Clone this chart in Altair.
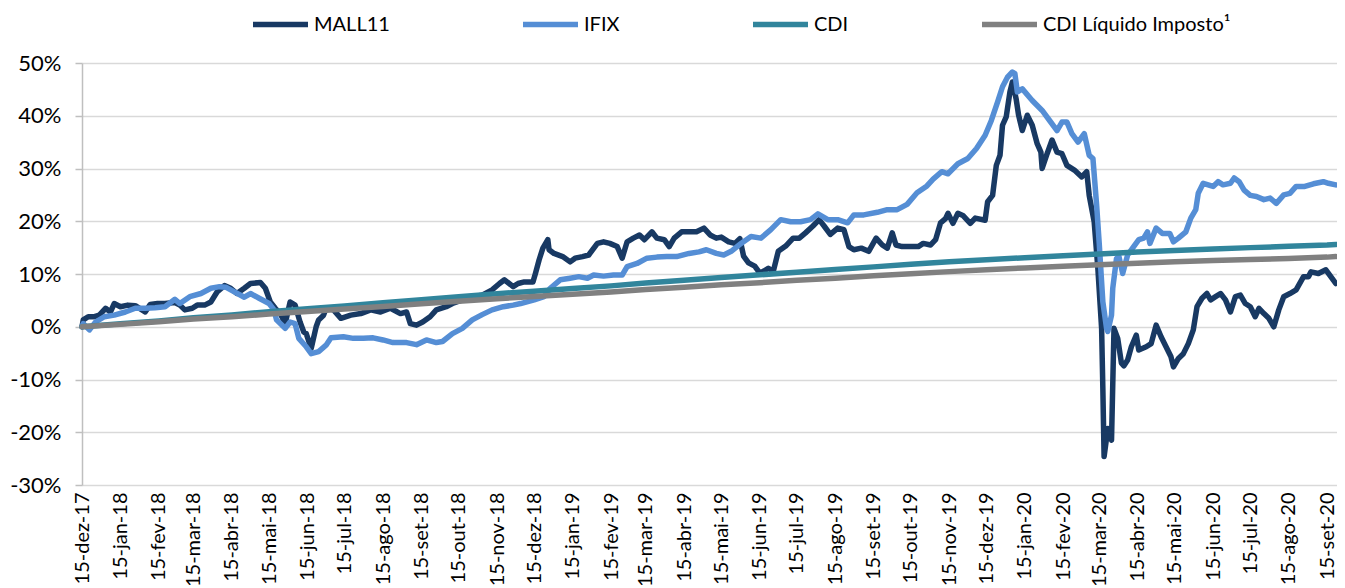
import json
import altair as alt
import pandas as pd

START = "2017-12-15"  # day 0 of every *_day list below

# ---- MALL11 (days since START, cumulative return in %)
mall_day = [0, 1, 5, 10, 14, 19, 23, 26, 31, 37, 43, 51, 55, 61, 67, 75, 79, 83, 89, 93,
            99, 104, 109, 115, 120, 125, 131, 136, 144, 148, 152, 156, 160, 164, 168, 172, 176, 179, 181, 185,
            189, 191, 195, 197, 203, 209, 217, 225, 233, 241, 249, 257, 262, 265, 270, 275, 281, 286, 294, 299,
            307, 315, 323, 331, 337, 341, 348, 352, 357, 364, 366, 369, 372, 376, 377, 381, 388, 394, 398, 404,
            409, 416, 421, 426, 432, 436, 440, 445, 450, 454, 460, 464, 470, 474, 478, 484, 490, 496, 502, 507,
            512, 516, 522, 527, 531, 534, 538, 543, 547, 550, 554, 558, 562, 568, 574, 579, 584, 590, 595, 599,
            604, 610, 615, 619, 623, 629, 635, 641, 646, 650, 654, 657, 662, 669, 675, 679, 685, 689, 693, 697,
            699, 703, 707, 711, 717, 721, 729, 731, 735, 738, 741, 743, 746, 749, 751, 754, 756, 759, 763, 767,
            771, 774, 775, 779, 783, 787, 791, 795, 801, 807, 811, 813, 817, 820, 823, 824, 825, 828, 831, 833,
            836, 839, 841, 844, 847, 851, 853, 859, 863, 867, 871, 875, 879, 881, 885, 889, 893, 897, 900, 904,
            908, 911, 915, 919, 923, 927, 931, 935, 939, 943, 947, 950, 954, 958, 962, 966, 970, 975, 980, 986,
            990, 992, 998, 1004, 1008, 1012]
mall_val = [0.0, 1.3, 1.9, 1.9, 2.2, 3.5, 2.8, 4.4, 3.8, 4.1, 4.0, 2.8, 4.2, 4.4, 4.4, 4.6, 4.1, 3.2, 3.5, 4.1,
            4.1, 4.7, 6.6, 7.8, 7.3, 6.3, 7.3, 8.2, 8.4, 7.3, 4.7, 3.5, 2.5, 0.6, 4.7, 4.1, 0.9, -1.0, -1.3, -4.1,
            0.0, 1.3, 2.2, 3.5, 3.2, 1.6, 2.2, 2.5, 3.2, 2.8, 3.5, 2.5, 2.8, 0.6, 0.3, 0.9, 1.9, 3.2, 3.8, 4.4,
            5.1, 5.7, 6.0, 7.0, 8.2, 8.9, 7.6, 8.2, 8.5, 8.5, 10.1, 12.7, 14.9, 16.5, 14.6, 13.9, 13.3, 12.3, 13.0, 13.3,
            13.6, 15.8, 16.1, 15.8, 15.2, 13.0, 16.1, 16.8, 17.4, 16.5, 18.0, 16.8, 16.5, 15.2, 16.8, 18.0, 18.0, 18.0, 18.7, 17.4,
            16.8, 17.0, 16.1, 15.8, 16.7, 13.4, 12.1, 11.5, 10.2, 10.5, 11.1, 10.5, 14.3, 15.3, 16.8, 16.8, 17.8, 19.1, 20.3, 19.1,
            17.5, 18.7, 18.4, 15.2, 14.6, 14.9, 14.3, 16.8, 15.5, 14.9, 17.8, 15.5, 15.2, 15.2, 15.2, 15.8, 15.5, 16.5, 19.7, 20.5,
            21.5, 19.6, 21.5, 21.1, 19.6, 20.6, 20.2, 23.7, 24.9, 30.6, 32.5, 38.2, 39.8, 44.5, 46.4, 43.2, 40.1, 37.2, 40.1, 38.2,
            34.7, 33.1, 30.0, 32.8, 35.4, 33.1, 32.8, 30.6, 29.7, 28.4, 29.4, 24.9, 19.9, 11.0, -0.3, -11.7, -24.6, -19.3, -21.5, -0.3,
            -2.2, -6.9, -7.4, -6.3, -3.8, -1.6, -4.4, -3.8, -3.2, 0.3, -1.9, -3.8, -5.7, -7.6, -6.0, -5.1, -3.2, -0.6, 3.8, 5.4,
            6.3, 5.1, 5.7, 6.3, 5.1, 2.8, 5.7, 6.0, 4.4, 3.8, 1.9, 3.5, 2.5, 1.6, 0.0, 3.2, 5.7, 6.3, 7.0, 9.5,
            9.5, 10.4, 10.1, 10.8, 9.5, 8.2]

# ---- IFIX
ifix_day = [0, 1, 6, 11, 18, 26, 35, 43, 51, 59, 67, 75, 79, 87, 96, 104, 111, 116, 123, 131,
            136, 143, 151, 155, 157, 164, 168, 172, 175, 181, 185, 191, 197, 201, 211, 219, 227, 235, 243, 251,
            262, 270, 278, 286, 291, 299, 307, 315, 323, 331, 340, 348, 354, 365, 373, 378, 386, 394, 401, 408,
            413, 421, 429, 436, 440, 448, 456, 464, 472, 480, 490, 498, 504, 512, 518, 524, 532, 540, 548, 556,
            564, 572, 580, 588, 594, 602, 610, 618, 623, 631, 642, 650, 658, 666, 674, 682, 687, 694, 699, 707,
            715, 722, 729, 734, 739, 743, 747, 751, 753, 755, 759, 767, 775, 781, 787, 791, 795, 799, 804, 809,
            813, 816, 819, 821, 824, 827, 828, 831, 832, 835, 837, 840, 844, 848, 853, 857, 860, 862, 867, 872,
            878, 881, 885, 891, 895, 899, 901, 905, 909, 913, 917, 921, 927, 930, 934, 938, 943, 948, 954, 959,
            964, 970, 975, 980, 987, 994, 1002, 1006, 1012]
ifix_val = [0.0, 0.6, -0.6, 0.9, 1.9, 2.2, 2.8, 3.5, 3.5, 3.6, 3.8, 5.2, 4.4, 5.7, 6.3, 7.3, 7.6, 7.5, 6.6, 5.6,
            6.3, 5.4, 4.4, 3.2, 1.3, -0.3, 0.9, 0.6, -2.2, -3.8, -5.1, -4.7, -3.5, -2.1, -1.9, -2.2, -2.2, -2.1, -2.5, -3.0,
            -3.0, -3.4, -2.5, -3.0, -2.8, -1.3, -0.3, 1.3, 2.3, 3.2, 3.8, 4.1, 4.4, 5.1, 5.7, 7.3, 8.9, 9.2, 9.5, 9.2,
            9.8, 9.6, 9.8, 9.8, 11.4, 12.0, 13.0, 13.2, 13.3, 13.3, 13.9, 14.2, 14.6, 13.9, 13.6, 14.3, 15.8, 17.1, 16.8, 18.4,
            20.3, 19.9, 19.9, 20.3, 21.4, 20.3, 20.3, 19.7, 21.2, 21.2, 21.7, 22.2, 22.2, 23.2, 25.4, 26.7, 28.0, 29.4, 29.0, 30.9,
            31.9, 33.8, 36.3, 39.1, 42.6, 45.5, 47.3, 48.3, 48.0, 44.5, 45.1, 42.9, 41.0, 39.1, 37.2, 38.8, 38.8, 36.6, 35.0, 36.6,
            32.5, 31.9, 23.0, 16.1, 4.7, -0.3, -0.9, 2.2, 7.3, 12.9, 13.3, 10.1, 13.6, 14.9, 16.5, 16.8, 18.0, 15.8, 18.7, 17.7,
            17.7, 16.1, 16.8, 18.0, 20.6, 22.2, 25.3, 27.2, 26.9, 26.6, 27.5, 26.9, 27.2, 28.2, 27.5, 25.9, 24.9, 24.7, 24.1, 24.4,
            23.4, 25.0, 25.3, 26.6, 26.6, 27.1, 27.5, 27.2, 26.9]

# ---- CDI and CDI net of tax (monthly readings)
cdi_day = [0, 31, 62, 90, 121, 151, 182, 212, 243, 274, 304, 335,
           365, 396, 427, 455, 486, 516, 547, 577, 608, 639, 669, 700,
           730, 761, 792, 821, 852, 882, 913, 943, 974, 1005, 1012]
cdi_val = [0.0, 0.55, 1.1, 1.7, 2.25, 2.85, 3.4, 3.95, 4.55, 5.1, 5.7, 6.25,
           6.75, 7.25, 7.75, 8.3, 8.8, 9.35, 9.85, 10.35, 10.85, 11.35, 11.85, 12.3,
           12.7, 13.1, 13.45, 13.8, 14.15, 14.45, 14.75, 15.0, 15.25, 15.5, 15.6]
cdi_liq_val = [0.0, 0.45, 0.95, 1.45, 1.9, 2.4, 2.9, 3.35, 3.85, 4.35, 4.85, 5.3,
               5.75, 6.15, 6.6, 7.05, 7.5, 7.95, 8.35, 8.8, 9.2, 9.65, 10.05, 10.45,
               10.8, 11.15, 11.45, 11.75, 12.05, 12.3, 12.55, 12.75, 12.95, 13.2, 13.3]

SERIES = ["MALL11", "IFIX", "CDI", "CDI Líquido Imposto¹"]
COLORS = ["#183963", "#558ed5", "#31859c", "#808080"]
MESES = ["jan", "fev", "mar", "abr", "mai", "jun", "jul", "ago", "set", "out", "nov", "dez"]
TICK_MONTHS = [(2017, 12)] + [(y, m) for y in (2018, 2019) for m in range(1, 13)] + [(2020, m) for m in range(1, 10)]
Y_TICKS = [-30, -20, -10, 0, 10, 20, 30, 40, 50]


def frame(name, days, vals):
    return pd.DataFrame({
        "serie": name,
        "data": pd.Timestamp(START) + pd.to_timedelta(days, unit="D"),
        "valor": vals,
    })


df = pd.concat([
    frame(SERIES[0], mall_day, mall_val),
    frame(SERIES[1], ifix_day, ifix_val),
    frame(SERIES[2], cdi_day, cdi_val),
    frame(SERIES[3], cdi_day, cdi_liq_val),
], ignore_index=True)

FONT = "Lato"
label_expr = ("timeFormat(datum.value, '%d') + '-' + " + json.dumps(MESES).replace('"', "'")
              + "[month(datum.value)] + '-' + timeFormat(datum.value, '%y')")

chart = alt.Chart(df).mark_line(strokeWidth=5.5, strokeJoin="round", strokeCap="round").encode(
    x=alt.X("data:T",
            scale=alt.Scale(domain=[alt.DateTime(year=2017, month=12, date=15),
                                    alt.DateTime(year=2020, month=9, date=23)], nice=False),
            axis=alt.Axis(title=None, values=[alt.DateTime(year=y, month=m, date=15) for y, m in TICK_MONTHS],
                          labelExpr=label_expr, labelAngle=-90, labelFont=FONT, labelFontSize=20,
                          labelColor="#000000", labelPadding=7, domain=False, ticks=False, grid=False,
                          labelOverlap=False, labelFlush=False)),
    y=alt.Y("valor:Q",
            scale=alt.Scale(domain=[-30, 50], nice=False, zero=False),
            axis=alt.Axis(title=None, values=Y_TICKS, labelExpr="datum.value + '%'",
                          labelFont=FONT, labelFontSize=22, labelColor="#000000", labelPadding=14,
                          grid=True, gridColor="#d9d9d9", gridWidth=1.5,
                          domainColor="#bfbfbf", domainWidth=1.5,
                          tickColor="#bfbfbf", tickWidth=1.5, tickSize=7)),
    color=alt.Color("serie:N",
                    scale=alt.Scale(domain=SERIES, range=COLORS),
                    sort=SERIES,
                    legend=alt.Legend(title=None, orient="none", legendX=168, legendY=-69,
                                      direction="horizontal", columns=4, gridAlign="none",
                                      symbolType="stroke", symbolSize=3025, symbolStrokeWidth=5.5,
                                      labelFont=FONT, labelFontSize=20, labelColor="#000000",
                                      labelLimit=400, labelOffset=3, columnPadding=122)),
).properties(
    width=1255, height=422,
    autosize=alt.AutoSizeParams(type="none"),
    padding={"left": 74, "top": 55, "right": 0, "bottom": 100},
    background="#ffffff",
).configure_view(stroke=None)

chart.save("out.html", embed_options={"renderer": "svg", "actions": False})
